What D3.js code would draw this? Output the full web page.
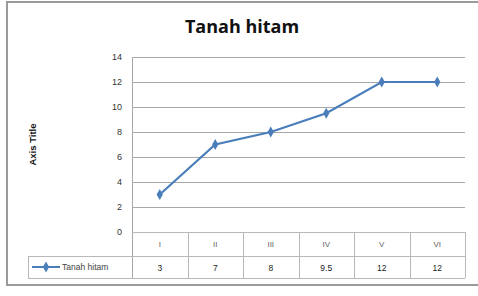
<!DOCTYPE html>
<html><head><meta charset="utf-8">
<script src="https://cdn.jsdelivr.net/npm/d3@7"></script>
<style>body{margin:0;background:#fff}svg{display:block}</style>
</head><body>
<script>
const categories = ["I","II","III","IV","V","VI"];
const values = [3,7,8,9.5,12,12];
const seriesName = "Tanah hitam";
const yTicks = [0,2,4,6,8,10,12,14];
const title = "Tanah hitam";
const axisTitle = "Axis Title";

const W=478,H=296;
const svg=d3.select("body").append("svg").attr("width",W).attr("height",H);
svg.append("rect").attr("x",7).attr("y",2).attr("width",480).attr("height",283)
  .attr("fill","#fff").attr("stroke","#9a9a9a").attr("stroke-width",2);

const L=132,R=465,T=57,B=232;
const x=d3.scaleBand().domain(categories).range([L,R]);
const y=d3.scaleLinear().domain([0,14]).range([B,T]);

svg.append("g").selectAll("line").data(yTicks).join("line")
  .attr("x1",L).attr("x2",R).attr("y1",d=>Math.round(y(d))+0.5).attr("y2",d=>Math.round(y(d))+0.5)
  .attr("stroke","#a8a8a8").attr("stroke-width",1);

const ya=svg.append("g").attr("transform",`translate(${L},0)`)
  .call(d3.axisLeft(y).tickValues(yTicks).tickSize(0).tickPadding(10));
ya.select(".domain").remove();
ya.selectAll("text").attr("font-family","Liberation Sans, Arial, sans-serif").attr("font-size",9).attr("fill","#333");
svg.append("line").attr("x1",L+0.5).attr("x2",L+0.5).attr("y1",T).attr("y2",278).attr("stroke","#a8a8a8");

svg.append("text").attr("transform",`translate(36,${(T+B)/2}) rotate(-90)`)
  .attr("text-anchor","middle").attr("font-family","Liberation Sans, Arial, sans-serif")
  .attr("font-size",9.5).attr("font-weight","bold").attr("fill","#111").text(axisTitle);

svg.append("text").attr("x",242).attr("y",33).attr("text-anchor","middle")
  .attr("font-family","Open Sans, Liberation Sans, sans-serif").attr("font-weight","bold")
  .attr("font-size",18).attr("fill","#111").text(title);

const rowTop=B, rowMid=256, rowBot=278, legL=28;
const tg=svg.append("g");
const gc="#b8b8b8";
tg.append("line").attr("x1",L).attr("x2",R).attr("y1",rowTop+0.5).attr("y2",rowTop+0.5).attr("stroke",gc);
tg.append("line").attr("x1",legL).attr("x2",R).attr("y1",rowMid+0.5).attr("y2",rowMid+0.5).attr("stroke",gc);
tg.append("line").attr("x1",legL).attr("x2",R).attr("y1",rowBot+0.5).attr("y2",rowBot+0.5).attr("stroke",gc);
tg.append("line").attr("x1",legL+0.5).attr("x2",legL+0.5).attr("y1",rowMid).attr("y2",rowBot).attr("stroke",gc);
const bounds=categories.map(c=>x(c)+x.bandwidth()).slice(0,-1);
tg.selectAll(".vb").data(bounds.concat([R])).join("line")
  .attr("x1",d=>Math.round(d)+0.5).attr("x2",d=>Math.round(d)+0.5).attr("y1",rowTop).attr("y2",rowBot).attr("stroke",gc);
tg.selectAll(".hd").data(categories).join("text")
  .attr("x",d=>x(d)+x.bandwidth()/2).attr("y",rowTop+15).attr("text-anchor","middle")
  .attr("font-family","Liberation Sans, Arial, sans-serif").attr("font-size",8).attr("fill","#666").text(d=>d);
tg.selectAll(".vl").data(values).join("text")
  .attr("x",(d,i)=>x(categories[i])+x.bandwidth()/2).attr("y",rowMid+15).attr("text-anchor","middle")
  .attr("font-family","Liberation Sans, Arial, sans-serif").attr("font-size",8.5).attr("fill","#222").text(d=>d);

const blue="#4a7ebb";
const diamond=d3.symbol().type(d3.symbolDiamond).size(34);
tg.append("line").attr("x1",32).attr("x2",60).attr("y1",rowMid+11).attr("y2",rowMid+11).attr("stroke",blue).attr("stroke-width",2);
tg.append("path").attr("d",diamond).attr("transform",`translate(46,${rowMid+11})`).attr("fill",blue);
tg.append("text").attr("x",62).attr("y",rowMid+14).attr("font-family","Liberation Sans, Arial, sans-serif")
  .attr("font-size",8.5).attr("fill","#444").text(seriesName);

const line=d3.line().x((d,i)=>x(categories[i])+x.bandwidth()/2).y(d=>y(d));
svg.append("path").datum(values).attr("d",line).attr("fill","none").attr("stroke",blue).attr("stroke-width",2.2);
svg.selectAll(".pt").data(values).join("path").attr("d",diamond)
  .attr("transform",(d,i)=>`translate(${x(categories[i])+x.bandwidth()/2},${y(d)})`).attr("fill",blue);
</script>
</body></html>
